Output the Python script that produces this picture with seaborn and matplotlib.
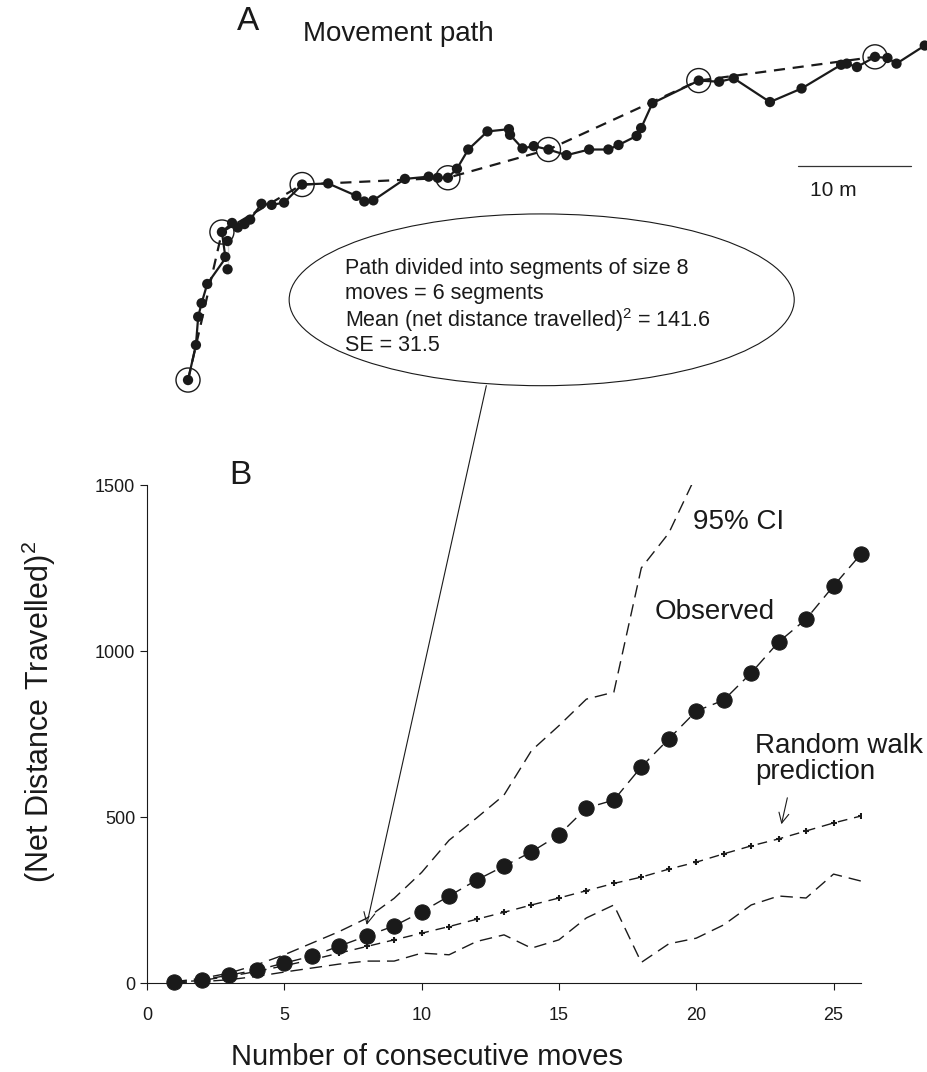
import matplotlib
matplotlib.use("Agg")
import matplotlib.pyplot as plt
from matplotlib.patches import Ellipse, ConnectionPatch
import seaborn as sns
import pandas as pd
import numpy as np

# Panel B data: squared net displacement vs number of moves
moves = list(range(1, 27))
observed = [3, 9, 24, 39, 60, 81, 111, 141.6, 172, 214, 262, 310, 352, 395, 446, 527,
            551, 651, 735, 819, 852, 934, 1027, 1096, 1196, 1292]
random_walk = [2, 8, 20, 35, 52, 70, 90, 110, 130, 150, 170, 192, 213, 235, 256, 278,
               300, 319, 343, 364, 389, 413, 434, 458, 482, 503]
ci_upper = [4, 14, 30, 55, 85, 120, 155, 195, 255, 333, 430, 497, 566, 700, 775, 855,
            876, 1250, 1355, 1530]
ci_lower = [1, 4, 10, 20, 33, 45, 57, 66, 66, 90, 85, 125, 145, 105, 130, 196,
            235, 62, 118, 135, 175, 235, 262, 256, 328, 307]

# Panel A data: movement path (metres), every 8th point starts a segment
path_x = [0.0, 0.7, 0.9, 1.2, 1.7, 3.5, 3.3, 3.5, 3.0, 3.9, 4.4, 5.0, 5.5, 6.5, 7.4, 8.5,
          10.1, 12.4, 14.9, 15.6, 16.4, 19.2, 21.3, 22.1, 23.0, 23.8, 24.8, 26.5, 28.4,
          28.5, 29.6, 30.6, 31.9, 33.5, 35.5, 37.2, 38.1, 39.7, 40.1, 41.1, 45.2, 47.0,
          48.3, 51.5, 54.3, 57.8, 58.3, 59.2, 60.8, 61.9, 62.7, 65.2]
path_y = [0.0, 3.1, 5.6, 6.8, 8.5, 9.8, 10.9, 12.3, 13.1, 13.9, 13.5, 13.8, 14.2, 15.6,
          15.5, 15.7, 17.3, 17.4, 16.3, 15.8, 15.9, 17.8, 18.0, 17.9, 17.9, 18.7, 20.4,
          22.0, 22.2, 21.7, 20.5, 20.7, 20.4, 19.9, 20.4, 20.4, 20.8, 21.6, 22.3, 24.5,
          26.5, 26.4, 26.7, 24.6, 25.8, 27.9, 28.0, 27.7, 28.6, 28.5, 28.0, 29.6]
segment_size = 8
n_segments = 6

ellipse_lines = ["Path divided into segments of size 8",
                 "moves = 6 segments",
                 "Mean (net distance travelled)$^2$ = 141.6",
                 "SE = 31.5"]

sns.set_theme(style="white")
plt.rcParams['font.family'] = ['Liberation Sans', 'DejaVu Sans']
plt.rcParams['mathtext.fontset'] = 'custom'
plt.rcParams['mathtext.rm'] = 'Liberation Sans'
plt.rcParams['mathtext.it'] = 'Liberation Sans:italic'

ink = '#1a1a1a'
W, H = 927, 1072
fig = plt.figure(figsize=(W / 100, H / 100), dpi=100)

# ---- Panel A ----
axA = fig.add_axes([0, 1 - 450 / H, 1, 450 / H])
path = pd.DataFrame({'x': path_x, 'y': path_y})
seg = path.iloc[::segment_size].iloc[:n_segments + 1]

sns.lineplot(data=seg, x='x', y='y', sort=False, ax=axA, color=ink,
             lw=1.6, linestyle=(0, (5, 3.5)))
sns.lineplot(data=path, x='x', y='y', sort=False, ax=axA, color=ink, lw=1.6)
sns.scatterplot(data=path, x='x', y='y', ax=axA, color=ink, s=55,
                edgecolor='none', zorder=4, clip_on=False)
sns.scatterplot(data=seg, x='x', y='y', ax=axA, facecolor='none', edgecolor=ink,
                s=300, linewidth=1.0, zorder=5, clip_on=False)

axA.set_xlim(-16.64, 65.4)
axA.set_ylim(-6.19, 33.63)
axA.set_axis_off()

# scale bar
axA.plot([54.0, 64.0], [18.9, 18.9], color='#333333', lw=0.9)
axA.text(57.1, 16.8, "10 m", ha='center', va='center', fontsize=15, color=ink)

# summary ellipse
axA.add_patch(Ellipse((31.3, 7.1), 44.7, 15.2, facecolor='white', edgecolor=ink,
                      lw=0.8, zorder=3))
for line, ypos in zip(ellipse_lines, [9.85, 7.65, 5.3, 3.05]):
    axA.text(13.9, ypos, line, ha='left', va='center', fontsize=15.5, color=ink, zorder=6)

fig.text(248 / W, 1 - 22 / H, "A", fontsize=24, ha='center', va='center', color=ink)
fig.text(303 / W, 1 - 34 / H, "Movement path", fontsize=20, ha='left', va='center',
         color=ink)

# ---- Panel B ----
axB = fig.add_axes([147 / W, (H - 983) / H, 714 / W, 498 / H])
dfB = pd.DataFrame({'moves': moves, 'observed': observed, 'random': random_walk,
                    'lower': ci_lower})
dfU = pd.DataFrame({'moves': moves[:len(ci_upper)], 'upper': ci_upper})

sns.lineplot(data=dfU, x='moves', y='upper', ax=axB, color=ink, lw=1.0,
             linestyle=(0, (9, 5)))
sns.lineplot(data=dfB, x='moves', y='lower', ax=axB, color=ink, lw=1.0,
             linestyle=(0, (9, 5)))
sns.lineplot(data=dfB, x='moves', y='random', ax=axB, color=ink, lw=1.0,
             linestyle=(0, (7, 5)), marker='+', markersize=5, markeredgewidth=1.5,
             markeredgecolor=ink)
sns.lineplot(data=dfB, x='moves', y='observed', ax=axB, color=ink, lw=1.0,
             linestyle=(0, (9, 5)), marker='o', markersize=11, markeredgecolor=ink,
             clip_on=False)

axB.set_xlim(0, 26)
axB.set_ylim(0, 1500)
axB.set_xticks([0, 5, 10, 15, 20, 25])
axB.set_yticks([0, 500, 1000, 1500])
axB.tick_params(axis='both', labelsize=13, colors=ink, direction='out',
                length=5, width=0.8, bottom=True, left=True)
axB.tick_params(axis='x', pad=12)
for side in ['top', 'right']:
    axB.spines[side].set_visible(False)
for side in ['left', 'bottom']:
    axB.spines[side].set_color(ink)
    axB.spines[side].set_linewidth(0.8)
axB.set_xlabel("Number of consecutive moves", fontsize=21, color=ink)
axB.xaxis.set_label_coords(0.392, -0.12)
axB.set_ylabel("(Net Distance Travelled)$^2$", fontsize=22, color=ink)
axB.yaxis.set_label_coords(-0.125, 0.545)

axB.text(3.39, 1530, "B", fontsize=24, ha='center', va='center', color=ink)
axB.text(19.88, 1389, "95% CI", fontsize=20, ha='left', va='center', color=ink)
axB.text(18.5, 1117, "Observed", fontsize=20, ha='left', va='center', color=ink)
axB.text(22.14, 675, "Random walk\nprediction", fontsize=20, ha='left', va='center',
         linespacing=1.0, color=ink)
axB.annotate("", xy=(23.08, 470), xytext=(23.34, 566),
             arrowprops=dict(arrowstyle='->', color=ink, lw=0.8, mutation_scale=18))

# callout from ellipse to the 8-move point
con = ConnectionPatch(xyA=(26.4, -0.5), coordsA=axA.transData,
                      xyB=(8, 175), coordsB=axB.transData,
                      arrowstyle='->', color=ink, lw=0.8, mutation_scale=20)
fig.add_artist(con)

fig.savefig("out.png", dpi=100)
